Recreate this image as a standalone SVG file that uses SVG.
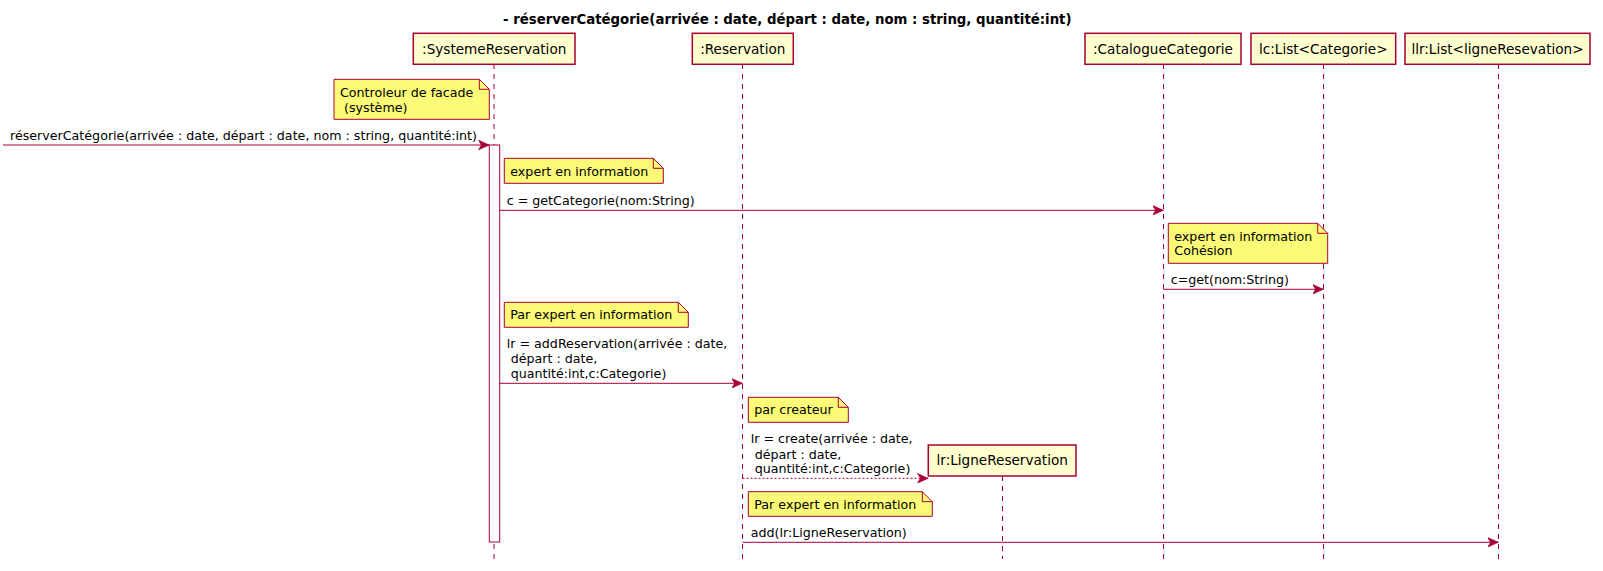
<svg xmlns="http://www.w3.org/2000/svg" width="1603" height="571" viewBox="0 0 1603 571">
<style>
text{font-family:"DejaVu Sans","Liberation Sans",sans-serif;fill:#000}
.title{font-weight:bold;font-size:13.3px}
.pt{font-size:13.6px;text-anchor:middle}
.msg{font-size:12.66px}
.nt{font-size:12.66px}
.box{fill:#FEFECE;stroke:#A80036;stroke-width:1.5}
.life{stroke:#A80036;stroke-width:1;stroke-dasharray:5,5;fill:none}
.note{fill:#FBFB77;stroke:#A80036;stroke-width:1}
.fold{fill:none;stroke:#A80036;stroke-width:1}
.line{stroke:#A80036;stroke-width:1;fill:none}
.dot{stroke:#A80036;stroke-width:1;fill:none;stroke-dasharray:2,2}
.act{fill:#FFFFFF;stroke:#A80036;stroke-width:1}
</style>
<defs>
<marker id="ah" viewBox="0 0 11 10" refX="11" refY="5" markerWidth="11" markerHeight="10" markerUnits="userSpaceOnUse" orient="auto">
<path d="M0,0 L11,5 L0,10 L3,5 Z" fill="#A80036" stroke="#A80036" stroke-width="0.5"/>
</marker>
</defs>
<rect width="1603" height="571" fill="#FFFFFF"/>
<text class="title" x="503" y="24">- réserverCatégorie(arrivée : date, départ : date, nom : string, quantité:int)</text>

<g id="lifelines">
<line class="life" x1="494" y1="64" x2="494" y2="559"/>
<line class="life" x1="742.5" y1="64" x2="742.5" y2="559"/>
<line class="life" x1="1163.5" y1="64" x2="1163.5" y2="559"/>
<line class="life" x1="1323.5" y1="64" x2="1323.5" y2="559"/>
<line class="life" x1="1498.5" y1="64" x2="1498.5" y2="559"/>
<line class="life" x1="1002.5" y1="476" x2="1002.5" y2="559"/>
</g>

<g id="p-systeme">
<rect class="box" x="413.3" y="33.3" width="161.7" height="31"/>
<text class="pt" x="494.2" y="53.5">:SystemeReservation</text>
</g>
<g id="p-reservation">
<rect class="box" x="692.3" y="33.3" width="101" height="31"/>
<text class="pt" x="742.8" y="53.5">:Reservation</text>
</g>
<g id="p-catalogue">
<rect class="box" x="1085" y="33.3" width="156" height="31"/>
<text class="pt" x="1163" y="53.5">:CatalogueCategorie</text>
</g>
<g id="p-lc">
<rect class="box" x="1251" y="33.3" width="144.7" height="31"/>
<text class="pt" x="1323.3" y="53.5">lc:List&lt;Categorie&gt;</text>
</g>
<g id="p-llr">
<rect class="box" x="1405" y="33.3" width="185" height="31"/>
<text class="pt" x="1497.5" y="53.5">llr:List&lt;ligneResevation&gt;</text>
</g>
<g id="p-ligne">
<rect class="box" x="928.3" y="445" width="147.7" height="31"/>
<text class="pt" x="1002.2" y="465.2">lr:LigneReservation</text>
</g>

<g id="activation">
<rect class="act" x="489.3" y="145" width="10.4" height="397"/>
</g>

<g id="note-facade">
<path class="note" d="M334,79.3 L334,119.3 L489.3,119.3 L489.3,89.3 L479.3,79.3 Z"/>
<path class="fold" d="M479.3,79.3 L479.3,89.3 L489.3,89.3"/>
<text class="nt" x="340" y="96.7">Controleur de facade</text>
<text class="nt" x="340" y="111.7" xml:space="preserve"> (système)</text>
</g>
<g id="note-expert1">
<path class="note" d="M504.3,158.3 L504.3,183.3 L663.3,183.3 L663.3,168.3 L653.3,158.3 Z"/>
<path class="fold" d="M653.3,158.3 L653.3,168.3 L663.3,168.3"/>
<text class="nt" x="510.3" y="175.5">expert en information</text>
</g>
<g id="note-cohesion">
<path class="note" d="M1168.3,223.3 L1168.3,263.3 L1327.7,263.3 L1327.7,233.3 L1317.7,223.3 Z"/>
<path class="fold" d="M1317.7,223.3 L1317.7,233.3 L1327.7,233.3"/>
<text class="nt" x="1174.3" y="240.5">expert en information</text>
<text class="nt" x="1174.3" y="255.4">Cohésion</text>
</g>
<g id="note-expert2">
<path class="note" d="M504.3,302.3 L504.3,327.3 L688.3,327.3 L688.3,312.3 L678.3,302.3 Z"/>
<path class="fold" d="M678.3,302.3 L678.3,312.3 L688.3,312.3"/>
<text class="nt" x="510.3" y="319.4">Par expert en information</text>
</g>
<g id="note-createur">
<path class="note" d="M748.3,397.3 L748.3,422.3 L848.3,422.3 L848.3,407.3 L838.3,397.3 Z"/>
<path class="fold" d="M838.3,397.3 L838.3,407.3 L848.3,407.3"/>
<text class="nt" x="754.3" y="414.4">par createur</text>
</g>
<g id="note-expert3">
<path class="note" d="M748.3,491.7 L748.3,516.3 L932.3,516.3 L932.3,501.7 L922.3,491.7 Z"/>
<path class="fold" d="M922.3,491.7 L922.3,501.7 L932.3,501.7"/>
<text class="nt" x="754.3" y="508.7">Par expert en information</text>
</g>

<g id="connectors">
<line class="line" x1="3" y1="145" x2="489.3" y2="145" marker-end="url(#ah)"/>
<line class="line" x1="499.7" y1="210.3" x2="1163.5" y2="210.3" marker-end="url(#ah)"/>
<line class="line" x1="1163.5" y1="289.3" x2="1323.5" y2="289.3" marker-end="url(#ah)"/>
<line class="line" x1="499.7" y1="383.3" x2="742.5" y2="383.3" marker-end="url(#ah)"/>
<line class="dot" x1="742.5" y1="478.3" x2="928.3" y2="478.3" marker-end="url(#ah)"/>
<line class="line" x1="742.5" y1="542.3" x2="1498.5" y2="542.3" marker-end="url(#ah)"/>
</g>

<g id="labels">
<text class="msg" x="10" y="140">réserverCatégorie(arrivée : date, départ : date, nom : string, quantité:int)</text>
<text class="msg" x="506.7" y="204.8">c = getCategorie(nom:String)</text>
<text class="msg" x="1170.7" y="283.6">c=get(nom:String)</text>
<text class="msg" x="506.7" y="348.3">lr = addReservation(arrivée : date,</text>
<text class="msg" x="506.7" y="363.3" xml:space="preserve"> départ : date,</text>
<text class="msg" x="506.7" y="378.3" xml:space="preserve"> quantité:int,c:Categorie)</text>
<text class="msg" x="750.7" y="443.3">lr = create(arrivée : date,</text>
<text class="msg" x="750.7" y="458.5" xml:space="preserve"> départ : date,</text>
<text class="msg" x="750.7" y="473.3" xml:space="preserve"> quantité:int,c:Categorie)</text>
<text class="msg" x="750.7" y="537.3">add(lr:LigneReservation)</text>
</g>
</svg>
